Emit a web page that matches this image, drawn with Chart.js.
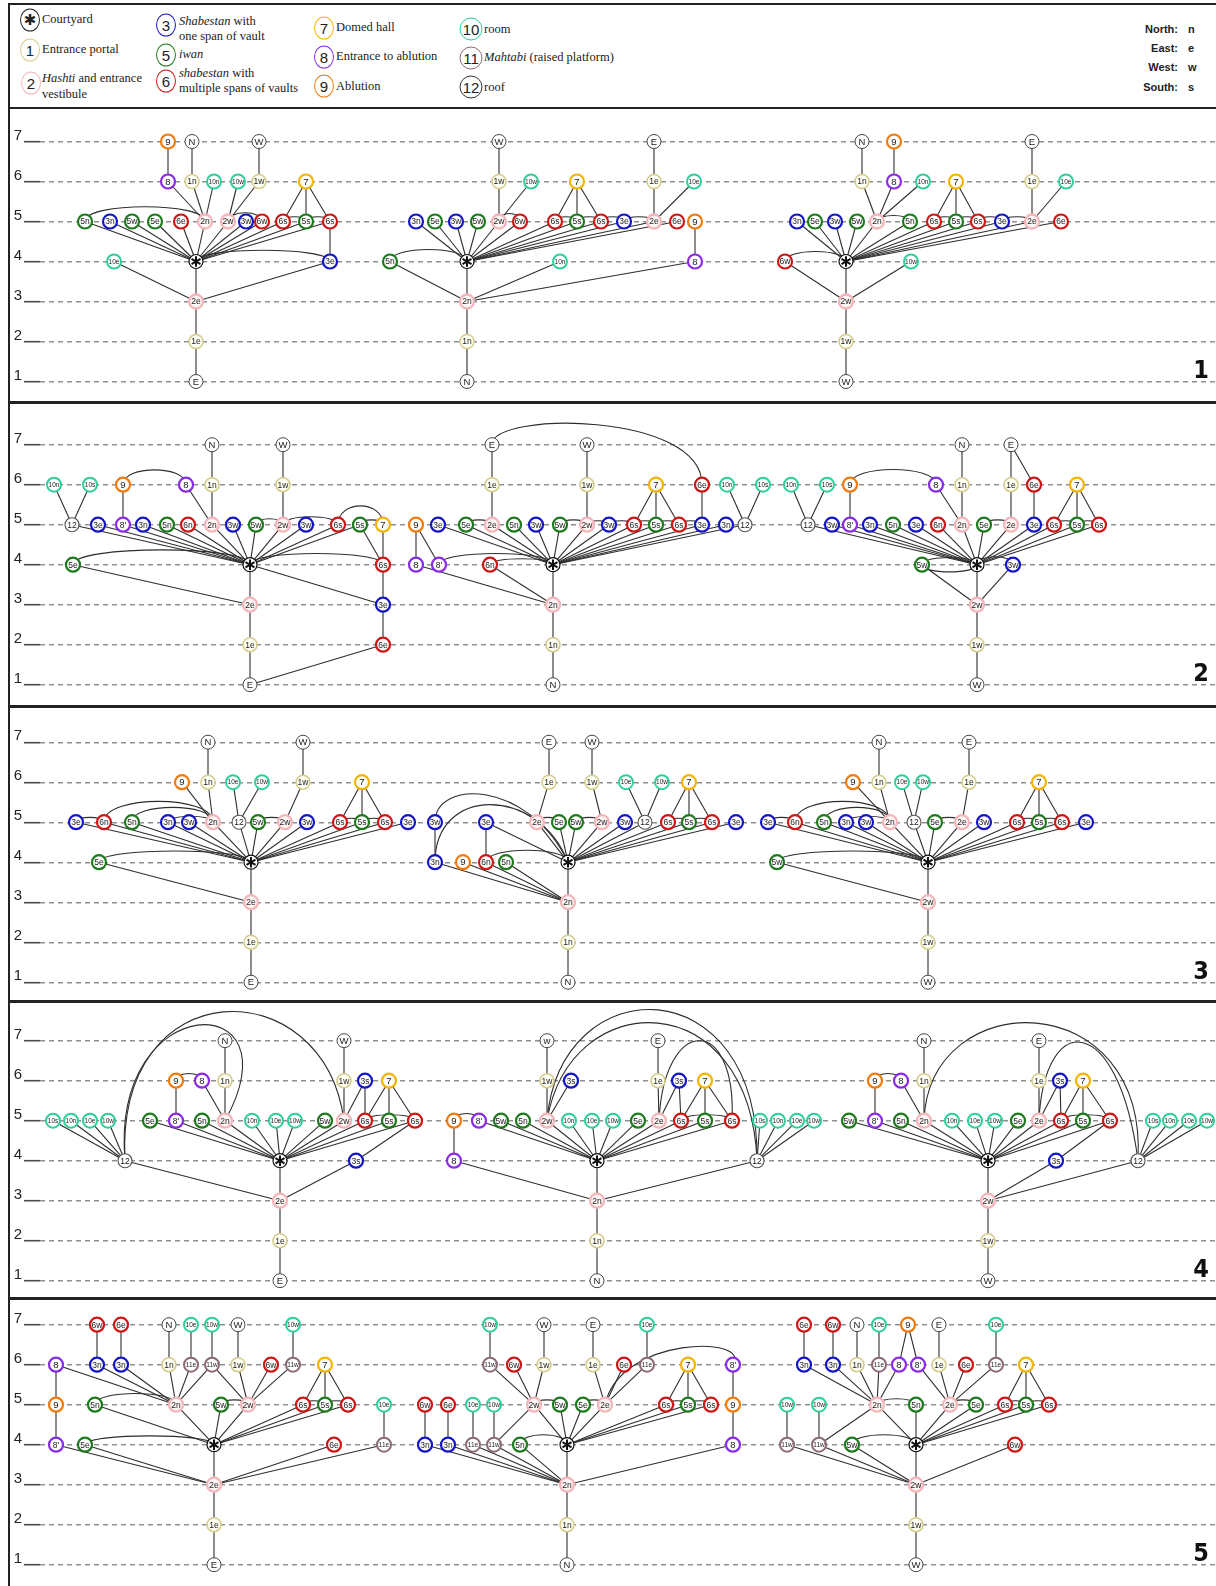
<!DOCTYPE html>
<html>
<head>
<meta charset="utf-8">
<script src="https://cdn.jsdelivr.net/npm/chart.js@4.4.0/dist/chart.umd.min.js"></script>
<style>
  html, body { margin: 0; padding: 0; background: #fff; }
  #page { position: relative; width: 1216px; height: 1586px; overflow: hidden; }
  canvas { position: absolute; }
  .rule { position: absolute; background: #222; z-index: 5; }
  .lg-c { position: absolute; width: 18px; height: 21px; border: 1.3px solid #222; border-radius: 50%;
          font: 15px "Liberation Sans", Arial, sans-serif; color: #222; text-align: center; line-height: 21px;
          transform: translate(-50%, -50%); background: #fff; }
  .lg-t { position: absolute; font: 12.5px "Liberation Serif", "Times New Roman", serif; color: #222;
          transform: translateY(-50%); white-space: nowrap; }
  .lg-d { position: absolute; font: bold 11px "Liberation Sans Narrow", "Liberation Sans", sans-serif; color: #222;
          transform: translateY(-50%); white-space: nowrap; }
</style>
</head>
<body>
<div id="page">
  <div class="rule" style="left:8px;top:3px;width:1208px;height:2px"></div>
  <div class="rule" style="left:8px;top:3px;width:1.6px;height:1583px"></div>

  <div class="lg-c" style="left:30px;top:20px;font:bold 15px 'DejaVu Sans';line-height:20px">✱</div>
  <div class="lg-t" style="left:42px;top:19px">Courtyard</div>
  <div class="lg-c" style="left:30px;top:50px;border-color:#d5cc8e">1</div>
  <div class="lg-t" style="left:42px;top:49px">Entrance portal</div>
  <div class="lg-c" style="left:31px;top:83px;border-color:#f4b6ba">2</div>
  <div class="lg-t" style="left:42px;top:78px"><i>Hashti</i> and entrance</div>
  <div class="lg-t" style="left:42px;top:94px">vestibule</div>

  <div class="lg-c" style="left:166px;top:25px;border-color:#1515c8">3</div>
  <div class="lg-t" style="left:179px;top:21px"><i>Shabestan</i> with</div>
  <div class="lg-t" style="left:179px;top:36px">one span of vault</div>
  <div class="lg-c" style="left:166px;top:55px;border-color:#1d7a1d">5</div>
  <div class="lg-t" style="left:179px;top:54px"><i>iwan</i></div>
  <div class="lg-c" style="left:166px;top:81px;border-color:#cf1515">6</div>
  <div class="lg-t" style="left:179px;top:73px"><i>shabestan</i> with</div>
  <div class="lg-t" style="left:179px;top:88px">multiple spans of vaults</div>

  <div class="lg-c" style="left:324px;top:28px;border-color:#f4b400">7</div>
  <div class="lg-t" style="left:336px;top:27px">Domed hall</div>
  <div class="lg-c" style="left:324px;top:57px;border-color:#8b2be8">8</div>
  <div class="lg-t" style="left:336px;top:56px">Entrance to ablution</div>
  <div class="lg-c" style="left:324px;top:86px;border-color:#f27a0c">9</div>
  <div class="lg-t" style="left:336px;top:86px">Ablution</div>

  <div class="lg-c" style="left:471px;top:29px;width:21px;border-color:#2ecf9b">10</div>
  <div class="lg-t" style="left:484px;top:29px">room</div>
  <div class="lg-c" style="left:471px;top:58px;width:21px;border-color:#8e6a74">11</div>
  <div class="lg-t" style="left:484px;top:57px"><i>Mahtabi</i> (raised platform)</div>
  <div class="lg-c" style="left:471px;top:87px;width:21px;border-color:#333">12</div>
  <div class="lg-t" style="left:484px;top:87px">roof</div>

  <div class="lg-d" style="right:38px;top:29px">North:</div><div class="lg-d" style="left:1188px;top:29px">n</div>
  <div class="lg-d" style="right:38px;top:48px">East:</div><div class="lg-d" style="left:1188px;top:48px">e</div>
  <div class="lg-d" style="right:38px;top:67px">West:</div><div class="lg-d" style="left:1188px;top:67px">w</div>
  <div class="lg-d" style="right:38px;top:87px">South:</div><div class="lg-d" style="left:1188px;top:87px">s</div>
</div>
<script>
// tick labels of the level axis
const levels = [1, 2, 3, 4, 5, 6, 7];
const panelNames = ["1", "2", "3", "4", "5"];

// nodes: [label, horizontal position, level]; "#2" marks a second node with the same label
// edges: "a-b" straight links; arcs: [a, b, height above the higher end (levels), shift a, shift b]

// ---- panel 1 ----
const p1aNodes = [["9",168,7],["N",192,7],["W",259,7],
  ["8",168,6],["1n",192,6],["10n",214,6],["10w",238,6],["1w",259,6],["7",306,6],
  ["5n",85,5],["3n",110,5],["5w",132,5],["5e",155,5],["6e",181,5],["2n",205,5],["2w",228,5],["3w",246,5],["6w",262,5],["6s",283,5],["5s",306,5],["6s#2",330,5],
  ["10e",114,4],["*",196,4],["3e",330,4],["2e",196,3],["1e",196,2],["E",196,1]];
const p1aEdges = ["9-8","N-1n","W-1w","8-2n","1n-2n","10n-2n","10w-2w","1w-2w","7-6s","7-5s","7-6s#2",
  "*-5n","*-3n","*-5w","*-5e","*-6e","*-2n","*-2w","*-3w","*-6w","*-6s","*-5s","*-6s#2",
  "6s#2-3e","10e-2e","3e-2e","*-2e","2e-1e","1e-E"];
const p1aArcs = [["5n","2n",0.37],["2w","6w",0.22],["6s","5s",0.12],["5s","6s#2",0.12],["*","3e",0.28]];

const p1bNodes = [["W",499,7],["E",654,7],
  ["1w",499,6],["10w",531,6],["7",577,6],["1e",654,6],["10e",694,6],
  ["3n",416,5],["5e",435,5],["3w",456,5],["5w",478,5],["2w",499,5],["6w",520,5],["6s",555,5],["5s",577,5],["6s#2",601,5],["3e",624,5],["2e",654,5],["6e",677,5],["9",695,5],
  ["5n",390,4],["*",467,4],["10n",560,4],["8",695,4],["2n",467,3],["1n",467,2],["N",467,1]];
const p1bEdges = ["W-1w","1w-2w","10w-2w","E-1e","1e-2e","10e-2e","9-8","7-6s","7-5s","7-6s#2",
  "*-3n","*-5e","*-3w","*-5w","*-2w","*-6w","*-6s","*-5s","*-6s#2","*-3e","*-2e","*-6e",
  "5n-2n","10n-2n","8-2n","*-2n","2n-1n","1n-N"];
const p1bArcs = [["5n","*",0.3],["2w","6w",0.2],["6s","5s",0.12],["5s","6s#2",0.12],["6s#2","3e",0.12],["3e","2e",0.12]];

const p1cNodes = [["N",862,7],["9",894,7],["E",1032,7],
  ["1n",862,6],["8",894,6],["10n",923,6],["7",956,6],["1e",1032,6],["10e",1066,6],
  ["3n",797,5],["5e",815,5],["3w",835,5],["5w",857,5],["2n",877,5],["5n",910,5],["6s",934,5],["5s",956,5],["6s#2",978,5],["3e",1002,5],["2e",1032,5],["6e",1061,5],
  ["6w",785,4],["*",846,4],["10w",911,4],["2w",846,3],["1w",846,2],["W",846,1]];
const p1cEdges = ["N-1n","9-8","E-1e","1n-2n","8-2n","10n-2n","1e-2e","10e-2e","7-6s","7-5s","7-6s#2",
  "*-3n","*-5e","*-3w","*-5w","*-2n","*-5n","*-6s","*-5s","*-6s#2","*-3e","*-2e","*-6e",
  "6w-2w","10w-2w","*-2w","2w-1w","1w-W"];
const p1cArcs = [["6w","*",0.25],["2n","5n",0.15],["6s","5s",0.12],["5s","6s#2",0.12],["6s#2","3e",0.12],["3e","2e",0.12]];

// ---- panel 2 ----
const p2aNodes = [["N",212,7],["W",283,7],
  ["10n",54,6],["10s",90,6],["9",123,6],["8",186,6],["1n",212,6],["1w",283,6],
  ["12",72,5],["3e",98,5],["8'",123,5],["3n",143,5],["5n",167,5],["6n",188,5],["2n",212,5],["3w",233,5],["5w",256,5],["2w",283,5],["3w#2",306,5],["6s",338,5],["5s",360,5],["7",383,5],
  ["5e",73,4],["*",250,4],["6s#2",383,4],["2e",250,3],["3e#2",383,3],["1e",250,2],["6e",383,2],["E",250,1]];
const p2aEdges = ["10n-12","10s-12","9-8'","8-2n","1n-2n","N-1n","W-1w","1w-2w","5s-6s#2","7-6s#2","6s#2-3e#2","3e#2-6e","6e-E",
  "*-12","*-3e","*-8'","*-3n","*-5n","*-6n","*-2n","*-3w","*-5w","*-2w","*-3w#2","*-6s","*-5s",
  "5e-2e","*-3e#2","*-2e","2e-1e","1e-E"];
const p2aArcs = [["9","8",0.37],["5w","2w",0.15],["2w","6s",0.2],["6s","7",0.47],["5s","7",0.12],["*","6s#2",0.28],["5e","*",0.37]];

const p2bNodes = [["E",492,7],["W",587,7],
  ["1e",492,6],["1w",587,6],["7",656,6],["6e",702,6],["10n",727,6],["10s",763,6],
  ["9",416,5],["3e",438,5],["5e",466,5],["2e",492,5],["5n",514,5],["3w",536,5],["5w",560,5],["2w",587,5],["3w#2",609,5],["6s",634,5],["5s",656,5],["6s#2",679,5],["3e#2",702,5],["3n",726,5],["12",745,5],
  ["8",416,4],["8'",439,4],["6n",490,4],["*",553,4],["2n",553,3],["1n",553,2],["N",553,1]];
const p2bEdges = ["E-1e","1e-2e","W-1w","1w-2w","9-8","9-8'","8-2n","6n-2n","7-6s","7-5s","7-6s#2","6e-3e#2","10n-12","10s-12",
  "*-3e","*-5e","*-2e","*-5n","*-3w","*-5w","*-2w","*-3w#2","*-6s","*-5s","*-6s#2","*-3e#2","*-3n","*-12",
  "*-2n","2n-1n","1n-N"];
const p2bArcs = [["E","6e",0.5],["8'","*",0.28],["6n","*",0.15],["5e","2e",0.12],["5w","2w",0.12],["2w","3w#2",0.1],
  ["3w#2","6s",0.1],["6s","5s",0.1],["5s","6s#2",0.1],["6s#2","3e#2",0.1]];

const p2cNodes = [["N",962,7],["E",1011,7],
  ["10n",791,6],["10s",827,6],["9",850,6],["8",936,6],["1n",962,6],["1e",1011,6],["6e",1034,6],["7",1077,6],
  ["12",808,5],["3w",832,5],["8'",850,5],["3n",870,5],["5n",893,5],["3e",916,5],["6n",938,5],["2n",962,5],["5e",984,5],["2e",1011,5],["3e#2",1034,5],["6s",1054,5],["5s",1077,5],["6s#2",1099,5],
  ["5w",922,4],["*",977,4],["3w#2",1013,4],["2w",977,3],["1w",977,2],["W",977,1]];
const p2cEdges = ["10n-12","10s-12","9-8'","8-2n","1n-2n","N-1n","E-1e","E-6e","1e-2e","6e-3e#2","7-6s","7-5s","7-6s#2",
  "*-12","*-3w","*-8'","*-3n","*-5n","*-3e","*-6n","*-2n","*-5e","*-2e","*-3e#2","*-6s","*-5s","*-6s#2",
  "3w#2-2w","5w-2w","*-2w","2w-1w","1w-W"];
const p2cArcs = [["9","8",0.38],["5e","2e",0.12],["6s","5s",0.1],["5s","6s#2",0.1],["5w","*",0.18],["5w","*",-0.18],["*","3w#2",0.2]];

// ---- panel 3 ----
const p3aNodes = [["N",208,7],["W",303,7],
  ["9",182,6],["1n",208,6],["10e",233,6],["10w",262,6],["1w",303,6],["7",362,6],
  ["3e",76,5],["6n",104,5],["5n",132,5],["3n",168,5],["3w",189,5],["2n",213,5],["12",239,5],["5w",258,5],["2w",285,5],["3w#2",307,5],["6s",340,5],["5s",362,5],["6s#2",385,5],["3e#2",408,5],
  ["5e",99,4],["*",251,4],["2e",251,3],["1e",251,2],["E",251,1]];
const p3aEdges = ["N-1n","W-1w","9-2n","1n-2n","10e-12","10w-12","1w-2w","7-6s","7-5s","7-6s#2",
  "*-3e","*-6n","*-5n","*-3n","*-3w","*-2n","*-12","*-5w","*-2w","*-3w#2","*-6s","*-5s","*-6s#2","*-3e#2",
  "5e-2e","*-2e","2e-1e","1e-E"];
const p3aArcs = [["3e","6n",0.12],["6n","2n",0.52],["5n","2n",0.37],["3n","2n",0.15],["5w","2w",0.12],["6s","5s",0.1],["5s","6s#2",0.1],["5e","*",0.28]];

const p3bNodes = [["E",549,7],["W",592,7],
  ["1e",549,6],["1w",592,6],["10e",626,6],["10w",662,6],["7",689,6],
  ["3w",435,5],["3e",486,5],["2e",537,5],["5e",559,5],["5w",576,5],["2w",602,5],["3w#2",625,5],["12",645,5],["6s",668,5],["5s",689,5],["6s#2",712,5],["3e#2",736,5],
  ["3n",435,4],["9",463,4],["6n",486,4],["5n",506,4],["*",568,4],["2n",568,3],["1n",568,2],["N",568,1]];
const p3bEdges = ["E-1e","W-1w","1e-2e","1w-2w","10e-12","10w-12","7-6s","7-5s","7-6s#2","3w-3n","3e-6n","3n-2n","9-2n","6n-2n","5n-2n",
  "*-3e","*-2e","*-5e","*-5w","*-2w","*-3w#2","*-12","*-6s","*-5s","*-6s#2","*-3e#2",
  "*-2n","2n-1n","1n-N"];
const p3bArcs = [["3w","*",0.68,0,-40],["3n","*",1.44,0,-30],["6n","*",0.3],["2e","5e",0.12],["5w","2w",0.12],["6s","5s",0.1],["5s","6s#2",0.1]];

const p3cNodes = [["N",879,7],["E",969,7],
  ["9",853,6],["1n",879,6],["10e",902,6],["10w",923,6],["1e",969,6],["7",1039,6],
  ["3e",768,5],["6n",795,5],["5n",824,5],["3n",846,5],["3w",866,5],["2n",890,5],["12",914,5],["5e",935,5],["2e",962,5],["3w#2",984,5],["6s",1017,5],["5s",1039,5],["6s#2",1062,5],["3e#2",1086,5],
  ["5w",777,4],["*",928,4],["2w",928,3],["1w",928,2],["W",928,1]];
const p3cEdges = ["N-1n","E-1e","9-2n","1n-2n","10e-12","10w-12","1e-2e","7-6s","7-5s","7-6s#2",
  "*-3e","*-6n","*-5n","*-3n","*-3w","*-2n","*-12","*-5e","*-2e","*-3w#2","*-6s","*-5s","*-6s#2","*-3e#2",
  "5w-2w","*-2w","2w-1w","1w-W"];
const p3cArcs = [["3e","6n",0.12],["6n","2n",0.52],["5n","2n",0.37],["3n","2n",0.15],["5e","2e",0.12],["6s","5s",0.1],["5s","6s#2",0.1],["5w","*",0.28]];

// ---- panel 4 ----
const p4aNodes = [["N",225,7],["W",344,7],
  ["9",176,6],["8",202,6],["1n",225,6],["1w",344,6],["3s",365,6],["7",389,6],
  ["10s",53,5],["10n",71,5],["10e",90,5],["10w",108,5],["5e",150,5],["8'",176,5],["5n",202,5],["2n",225,5],["10n#2",252,5],["10e#2",276,5],["10w#2",295,5],["5w",325,5],["2w",344,5],["6s",365,5],["5s",389,5],["6s#2",415,5],
  ["12",125,4],["*",280,4],["3s#2",356,4],["2e",280,3],["1e",280,2],["E",280,1]];
const p4aEdges = ["10s-12","10n-12","10e-12","10w-12","12-2e","9-8'","8-2n","1n-2n","N-1n","W-1w","1w-2w","3s-2w","3s-6s","7-6s","7-5s","7-6s#2","6s#2-3s#2","3s#2-2e",
  "*-5e","*-8'","*-5n","*-2n","*-10n#2","*-10e#2","*-10w#2","*-5w","*-2w","*-6s","*-5s","*-6s#2",
  "*-2e","2e-1e","1e-E"];
const p4aArcs = [["9","8",0.18],["6s","6s#2",0.15],["12","2w",2.72,-10,-20],["12","2n",2.39,-15,75]];

const p4bNodes = [["w",547,7],["E",658,7],
  ["1w",547,6],["3s",571,6],["1e",658,6],["3s#2",679,6],["7",705,6],
  ["9",454,5],["8'",479,5],["5w",501,5],["5n",523,5],["2w",547,5],["10n",569,5],["10e",592,5],["10w",613,5],["5e",638,5],["2e",659,5],["6s",681,5],["5s",705,5],["6s#2",732,5],["10s#2",760,5],["10n#2",778,5],["10e#2",797,5],["10w#2",814,5],
  ["8",454,4],["*",597,4],["12",757,4],["2n",597,3],["1n",597,2],["N",597,1]];
const p4bEdges = ["9-8","8-2n","w-1w","1w-2w","3s-2w","E-1e","1e-2e","3s#2-2e","3s#2-6s","7-6s","7-5s","7-6s#2","10s#2-12","10n#2-12","10e#2-12","10w#2-12","12-2n",
  "*-8'","*-5w","*-5n","*-2w","*-10n","*-10e","*-10w","*-5e","*-2e","*-6s","*-5s","*-6s#2",
  "*-2n","2n-1n","1n-N"];
const p4bArcs = [["9","8'",0.18],["6s","6s#2",0.15],["2w","12",2.77,13,3],["2w","12",2.44,23,-7],["2e","6s#2",2.0,5,5]];

const p4cNodes = [["N",924,7],["E",1039,7],
  ["9",875,6],["8",901,6],["1n",924,6],["1e",1039,6],["3s",1060,6],["7",1083,6],
  ["5w",849,5],["8'",875,5],["5n",901,5],["2n",924,5],["10n",952,5],["10e",975,5],["10w",995,5],["5e",1018,5],["2e",1039,5],["6s",1061,5],["5s",1083,5],["6s#2",1110,5],["10s#2",1153,5],["10n#2",1170,5],["10e#2",1189,5],["10w#2",1207,5],
  ["*",988,4],["3s#2",1056,4],["12",1138,4],["2w",988,3],["1w",988,2],["W",988,1]];
const p4cEdges = ["9-8'","8-2n","1n-2n","N-1n","E-1e","1e-2e","3s-2e","3s-6s","7-6s","7-5s","7-6s#2","6s#2-3s#2","3s#2-2w","12-2w","10s#2-12","10n#2-12","10e#2-12","10w#2-12",
  "*-5w","*-8'","*-5n","*-2n","*-10n","*-10e","*-10w","*-5e","*-2e","*-6s","*-5s","*-6s#2",
  "*-2w","2w-1w","1w-W"];
const p4cArcs = [["9","8",0.18],["6s","6s#2",0.15],["2n","12",2.44,5,10],["2e","12",1.95,5,-20]];

// ---- panel 5 ----
const p5aNodes = [["6w",97,7],["6e",121,7],["N",169,7],["10e",191,7],["10w",212,7],["W",238,7],["10w#2",293,7],
  ["8",56,6],["3n",97,6],["3n#2",121,6],["1n",169,6],["11e",191,6],["11w",212,6],["1w",238,6],["6w#2",271,6],["11w#2",293,6],["7",325,6],
  ["9",56,5],["5n",95,5],["2n",176,5],["5w",221,5],["2w",248,5],["6s",303,5],["5s",325,5],["6s#2",348,5],["10e#2",384,5],
  ["8'",56,4],["5e",85,4],["*",214,4],["6e#2",334,4],["11e#2",384,4],["2e",214,3],["1e",214,2],["E",214,1]];
const p5aEdges = ["6w-3n","6e-3n#2","N-1n","10e-11e","10w-11w","W-1w","10w#2-11w#2","8-9","9-8'","8-2n","3n-2n","3n#2-2n","1n-2n","11e-2n","11w-2n","11w-2w","1w-2w","6w#2-2w","11w#2-2w","7-6s","7-5s","7-6s#2","10e#2-11e#2",
  "*-5n","*-2n","*-5w","*-2w","*-6s","*-5s","*-6s#2",
  "8'-2e","5e-2e","6e#2-2e","11e#2-2e","*-2e","2e-1e","1e-E"];
const p5aArcs = [["5n","2n",0.28],["5w","2w",0.12],["6s","5s",0.1],["5s","6s#2",0.1],["5e","*",0.22]];

const p5bNodes = [["10w",490,7],["W",544,7],["E",593,7],["10e",647,7],
  ["11w",490,6],["6w",514,6],["1w",544,6],["1e",593,6],["6e",624,6],["11e",647,6],["7",688,6],["8'",733,6],
  ["6w#2",425,5],["6e#2",448,5],["10e#2",473,5],["10w#2",494,5],["2w",534,5],["5w",560,5],["5e",583,5],["2e",605,5],["6s",666,5],["5s",688,5],["6s#2",711,5],["9",733,5],
  ["3n",425,4],["3n#2",448,4],["11e#2",473,4],["11w#2",494,4],["5n",520,4],["*",567,4],["8",733,4],["2n",567,3],["1n",567,2],["N",567,1]];
const p5bEdges = ["10w-11w","W-1w","E-1e","10e-11e","11w-2w","6w-2w","1w-2w","1e-2e","6e-2e","11e-2e","6w#2-3n","6e#2-3n#2","10e#2-11e#2","10w#2-11w#2",
  "3n-2n","3n#2-2n","11e#2-2n","11w#2-2n","5n-2n","2w-11w#2","7-6s","7-5s","7-6s#2","8'-9","9-8","8-2n",
  "*-2w","*-5w","*-5e","*-2e","*-6s","*-5s","*-6s#2","*-2n","2n-1n","1n-N"];
const p5bArcs = [["5n","*",0.25],["2w","5w",0.12],["5e","2e",0.12],["2e","8'",0.42,15,20],["6s","5s",0.1],["5s","6s#2",0.1]];

const p5cNodes = [["6e",804,7],["6w",833,7],["N",857,7],["10e",879,7],["9",908,7],["E",939,7],["10e#2",996,7],
  ["3n",804,6],["3n#2",833,6],["1n",857,6],["11e",879,6],["8",899,6],["8'",918,6],["1e",939,6],["6e#2",966,6],["11e#2",996,6],["7",1026,6],
  ["10w",787,5],["10w#2",819,5],["2n",877,5],["5n",916,5],["2e",950,5],["5e",976,5],["6s",1005,5],["5s",1026,5],["6s#2",1049,5],
  ["11w",787,4],["11w#2",819,4],["5w",852,4],["*",916,4],["6w#2",1015,4],["2w",916,3],["1w",916,2],["W",916,1]];
const p5cEdges = ["6e-3n","6w-3n#2","N-1n","10e-11e","9-8","9-8'","E-1e","10e#2-11e#2","3n-2n","3n#2-2n","1n-2n","11e-2n","8-2n","8'-2e","1e-2e","6e#2-2e","11e#2-2e",
  "7-6s","7-5s","7-6s#2","10w-11w","10w#2-11w#2","2n-11w#2",
  "*-2n","*-5n","*-2e","*-5e","*-6s","*-5s","*-6s#2","11w-2w","11w#2-2w","5w-2w","6w#2-2w","*-2w","2w-1w","1w-W"];
const p5cArcs = [["2n","5n",0.15],["2e","5e",0.12],["6s","5s",0.1],["5s","6s#2",0.1],["5w","*",0.25]];

const panels = [
  [[p1aNodes, p1aEdges, p1aArcs], [p1bNodes, p1bEdges, p1bArcs], [p1cNodes, p1cEdges, p1cArcs]],
  [[p2aNodes, p2aEdges, p2aArcs], [p2bNodes, p2bEdges, p2bArcs], [p2cNodes, p2cEdges, p2cArcs]],
  [[p3aNodes, p3aEdges, p3aArcs], [p3bNodes, p3bEdges, p3bArcs], [p3cNodes, p3cEdges, p3cArcs]],
  [[p4aNodes, p4aEdges, p4aArcs], [p4bNodes, p4bEdges, p4bArcs], [p4cNodes, p4cEdges, p4cArcs]],
  [[p5aNodes, p5aEdges, p5aArcs], [p5bNodes, p5bEdges, p5bArcs], [p5cNodes, p5cEdges, p5cArcs]]
];

// layout of the page
const sepY = [107.5, 402.5, 706, 1001.5, 1298, 1586];
const level7Y = [141.5, 444.7, 742.2, 1040.7, 1324.7];
const levelPx = 40;
const plotLeft = 40, plotRight = 1216, canvasLeft = 9;

const typeStyle = {
  star: ["#111", "#fff", 1.2], dir: ["#444", "#fff", 1],
  1: ["#d5cc8e", "#fffff4", 1.6], 2: ["#f4b6ba", "#fff6f6", 2.3],
  3: ["#1515c8", "#fff", 2.2], 5: ["#1d7a1d", "#fff", 2.2], 6: ["#cf1515", "#fff", 2.2],
  7: ["#f4b400", "#fff", 2.2], 8: ["#8b2be8", "#fff", 2.2], 9: ["#f27a0c", "#fff", 2.2],
  10: ["#2ecf9b", "#fff", 2], 11: ["#8e6a74", "#fff", 2], 12: ["#555", "#fff", 1.1]
};
function nodeType(label) {
  if (label === "*") return "star";
  const m = label.match(/^\d+/);
  return m ? +m[0] : "dir";
}

const page = document.getElementById("page");
sepY.slice(0, 5).forEach((y, i) => {
  const r = document.createElement("div");
  r.className = "rule";
  r.style.cssText = `left:8px;top:${y - (i === 0 ? 1 : 1.5)}px;width:1208px;height:${i === 0 ? 2 : 3}px`;
  page.appendChild(r);
});

panels.forEach((graphs, pi) => {
  const top = Math.round(sepY[pi] + 1.5);
  const bottom = Math.round(sepY[pi + 1] - 1.5);
  const h = bottom - top;
  const canvas = document.createElement("canvas");
  canvas.width = plotRight - canvasLeft;
  canvas.height = h;
  canvas.style.left = canvasLeft + "px";
  canvas.style.top = top + "px";
  page.appendChild(canvas);

  const level1Y = level7Y[pi] + 6 * levelPx;

  const nodes = [];
  const lookups = graphs.map(([ns]) => {
    const map = {};
    ns.forEach(([id, x, lv]) => {
      map[id] = [x, lv];
      nodes.push({ label: id.split("#")[0], x, y: lv });
    });
    return map;
  });

  const edgePlugin = {
    id: "edges" + pi,
    beforeDatasetsDraw(chart) {
      const { ctx, scales: { x, y } } = chart;
      ctx.save();
      ctx.strokeStyle = "#2e2e2e";
      ctx.lineWidth = 1.1;
      graphs.forEach(([, edges, arcs], gi) => {
        const pos = lookups[gi];
        edges.forEach(e => {
          const [a, b] = e.split("-");
          const A = pos[a], B = pos[b];
          if (!A || !B) return;
          ctx.beginPath();
          ctx.moveTo(x.getPixelForValue(A[0]), y.getPixelForValue(A[1]));
          ctx.lineTo(x.getPixelForValue(B[0]), y.getPixelForValue(B[1]));
          ctx.stroke();
        });
        arcs.forEach(([a, b, hgt, s1 = 0, s2 = 0]) => {
          const A = pos[a], B = pos[b];
          if (!A || !B) return;
          const base = hgt >= 0 ? Math.max(A[1], B[1]) : Math.min(A[1], B[1]);
          const peak = base + hgt;
          const lc = (peak - (A[1] + B[1]) / 8) / 0.75;
          ctx.beginPath();
          ctx.moveTo(x.getPixelForValue(A[0]), y.getPixelForValue(A[1]));
          ctx.bezierCurveTo(x.getPixelForValue(A[0] + s1), y.getPixelForValue(lc),
                            x.getPixelForValue(B[0] + s2), y.getPixelForValue(lc),
                            x.getPixelForValue(B[0]), y.getPixelForValue(B[1]));
          ctx.stroke();
        });
      });
      ctx.restore();
    }
  };

  const labelPlugin = {
    id: "labels" + pi,
    afterDatasetsDraw(chart) {
      const { ctx, scales: { x, y } } = chart;
      const meta = chart.getDatasetMeta(0);
      ctx.save();
      ctx.textAlign = "center";
      ctx.textBaseline = "middle";
      meta.data.forEach((pt, i) => {
        const label = nodes[i].label;
        if (label === "*") {
          ctx.strokeStyle = "#111";
          ctx.lineWidth = 2;
          [90, 30, 150].forEach(deg => {
            const r = deg * Math.PI / 180, dx = Math.cos(r) * 5.2, dy = Math.sin(r) * 5.2;
            ctx.beginPath();
            ctx.moveTo(pt.x - dx, pt.y - dy);
            ctx.lineTo(pt.x + dx, pt.y + dy);
            ctx.stroke();
          });
          return;
        }
        const size = label.length >= 3 ? 6.5 : label.length === 2 ? 8.5 : 9.5;
        ctx.font = `${size}px "Liberation Sans", Arial, sans-serif`;
        ctx.fillStyle = "#222";
        ctx.fillText(label, pt.x, pt.y + 0.5);
      });
      ctx.font = 'bold 25px "DejaVu Sans Condensed", "DejaVu Sans", sans-serif';
      ctx.fillStyle = "#111";
      ctx.fillText(panelNames[pi], x.getPixelForValue(1201), y.getPixelForValue(1) - 10);
      ctx.restore();
    }
  };

  const chart = new Chart(canvas.getContext("2d"), {
    type: "scatter",
    data: {
      datasets: [{
        data: nodes.map(n => ({ x: n.x, y: n.y })),
        pointRadius: 7,
        pointHoverRadius: 7,
        pointStyle: "circle",
        pointBorderColor: nodes.map(n => typeStyle[nodeType(n.label)][0]),
        pointBackgroundColor: nodes.map(n => typeStyle[nodeType(n.label)][1]),
        pointBorderWidth: nodes.map(n => typeStyle[nodeType(n.label)][2])
      }]
    },
    options: {
      responsive: false,
      devicePixelRatio: 1,
      animation: false,
      events: [],
      layout: { padding: 0, autoPadding: false },
      plugins: { legend: { display: false }, tooltip: { enabled: false } },
      scales: {
        x: { type: "linear", display: false, min: plotLeft, max: plotRight },
        y: {
          type: "linear",
          min: 1 - (bottom - level1Y) / levelPx,
          max: 7 + (level7Y[pi] - top) / levelPx,
          afterBuildTicks: s => { s.ticks = levels.map(v => ({ value: v })); },
          afterFit: s => { s.width = plotLeft - canvasLeft; s.paddingTop = 0; s.paddingBottom = 0; },
          grid: { color: "#8f8f8f", lineWidth: 1.4, drawTicks: true, tickLength: 16, tickColor: "#4a4a4a", tickWidth: 1.6, tickBorderDash: [] },
          border: { display: false, dash: [5, 4] },
          ticks: { color: "#222", font: { family: "Liberation Sans", size: 15 }, padding: 2, labelOffset: -6, autoSkip: false }
        }
      }
    },
    plugins: [edgePlugin, labelPlugin]
  });

  // keep the page positions exact, whatever room the layout took
  const ca = chart.chartArea;
  const xs = chart.options.scales.x, ys = chart.options.scales.y;
  xs.min = canvasLeft + ca.left;
  xs.max = canvasLeft + ca.right;
  ys.max = 7 + (level7Y[pi] - (top + ca.top)) / levelPx;
  ys.min = 1 - ((top + ca.bottom) - level1Y) / levelPx;
  chart.update();
});
</script>
</body>
</html>
